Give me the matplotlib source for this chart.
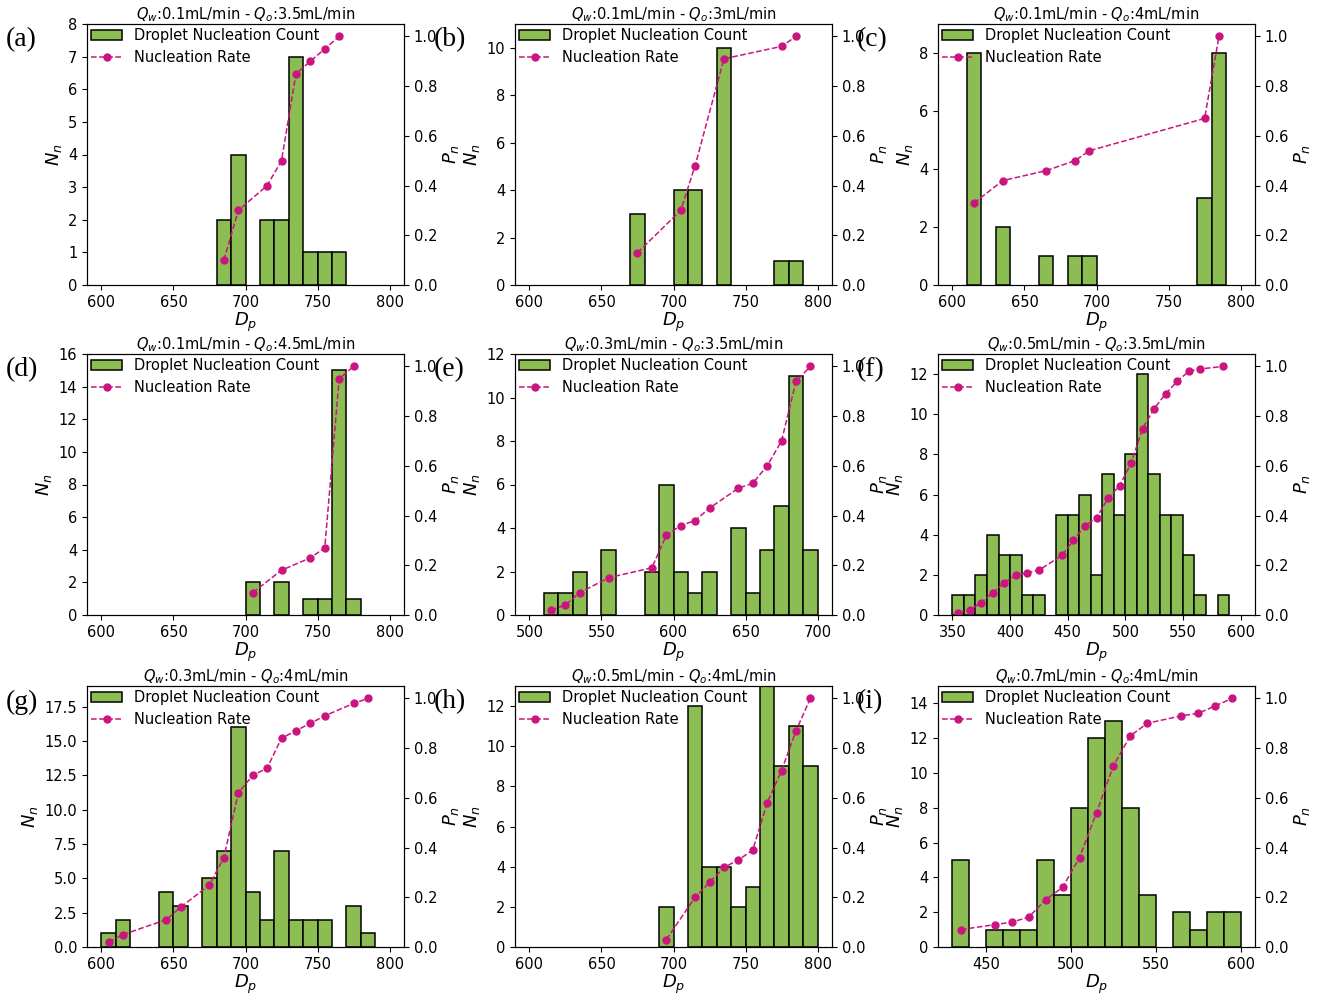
import numpy as np
import matplotlib
matplotlib.use("Agg")
import matplotlib.pyplot as plt

BAR_COLOR = "#8BBD52"
RATE_COLOR = "#CC1480"
BIN_W = 10

# =============================================================================
# data (bins are 10 wide, first bin starts at *_lo)
# =============================================================================
qw = ["0.1", "0.1", "0.1", "0.1", "0.3", "0.5", "0.3", "0.5", "0.7"]
qo = ["3.5", "3", "4", "4.5", "3.5", "3.5", "4", "4", "4"]
tags = ["(a)", "(b)", "(c)", "(d)", "(e)", "(f)", "(g)", "(h)", "(i)"]

lo_a = 600
counts_a = [0, 0, 0, 0, 0, 0, 0, 0, 2, 4, 0, 2, 2, 7, 1, 1, 1, 0, 0, 0]
rate_x_a = [685, 695, 715, 725, 735, 745, 755, 765]
rate_a = [0.10, 0.30, 0.40, 0.50, 0.85, 0.90, 0.95, 1.00]

lo_b = 600
counts_b = [0, 0, 0, 0, 0, 0, 0, 3, 0, 0, 4, 4, 0, 10, 0, 0, 0, 1, 1, 0]
rate_x_b = [675, 705, 715, 735, 775, 785]
rate_b = [0.13, 0.30, 0.48, 0.91, 0.96, 1.00]

lo_c = 600
counts_c = [0, 8, 0, 2, 0, 0, 1, 0, 1, 1, 0, 0, 0, 0, 0, 0, 0, 3, 8, 0]
rate_x_c = [615, 635, 665, 685, 695, 775, 785]
rate_c = [0.33, 0.42, 0.46, 0.50, 0.54, 0.67, 1.00]

lo_d = 600
counts_d = [0, 0, 0, 0, 0, 0, 0, 0, 0, 0, 2, 0, 2, 0, 1, 1, 15, 1, 0, 0]
rate_x_d = [705, 725, 745, 755, 765, 775]
rate_d = [0.09, 0.18, 0.23, 0.27, 0.95, 1.00]

lo_e = 500
counts_e = [0, 1, 1, 2, 0, 3, 0, 0, 2, 6, 2, 1, 2, 0, 4, 1, 3, 5, 11, 3]
rate_x_e = [515, 525, 535, 555, 585, 595, 605, 615, 625, 645, 655, 665, 675, 685, 695]
rate_e = [0.02, 0.04, 0.09, 0.15, 0.19, 0.32, 0.36, 0.38, 0.43, 0.51, 0.53, 0.60, 0.70, 0.94, 1.00]

lo_f = 350
counts_f = [1, 1, 2, 4, 3, 3, 1, 1, 0, 5, 5, 6, 2, 7, 5, 8, 12, 7, 5, 5, 3, 1, 0, 1, 0]
rate_x_f = [355, 365, 375, 385, 395, 405, 415, 425, 445, 455, 465, 475, 485, 495, 505,
            515, 525, 535, 545, 555, 565, 585]
rate_f = [0.01, 0.02, 0.05, 0.09, 0.13, 0.16, 0.17, 0.18, 0.24, 0.30, 0.36, 0.39, 0.47,
          0.52, 0.61, 0.75, 0.83, 0.89, 0.94, 0.98, 0.99, 1.00]

lo_g = 600
counts_g = [1, 2, 0, 0, 4, 3, 0, 5, 7, 16, 4, 2, 7, 2, 2, 2, 0, 3, 1, 0]
rate_x_g = [605, 615, 645, 655, 675, 685, 695, 705, 715, 725, 735, 745, 755, 775, 785]
rate_g = [0.02, 0.05, 0.11, 0.16, 0.25, 0.36, 0.62, 0.69, 0.72, 0.84, 0.87, 0.90, 0.93, 0.98, 1.00]

lo_h = 600
counts_h = [0, 0, 0, 0, 0, 0, 0, 0, 0, 2, 0, 12, 4, 4, 2, 3, 13, 9, 11, 9]
rate_x_h = [695, 715, 725, 735, 745, 755, 765, 775, 785, 795]
rate_h = [0.03, 0.20, 0.26, 0.32, 0.35, 0.39, 0.58, 0.71, 0.87, 1.00]

lo_i = 430
counts_i = [5, 0, 1, 1, 1, 5, 3, 8, 12, 13, 8, 3, 0, 2, 1, 2, 2]
rate_x_i = [435, 455, 465, 475, 485, 495, 505, 515, 525, 535, 545, 565, 575, 585, 595]
rate_i = [0.07, 0.09, 0.10, 0.12, 0.19, 0.24, 0.36, 0.54, 0.73, 0.85, 0.90, 0.93, 0.94, 0.97, 1.00]

los = [lo_a, lo_b, lo_c, lo_d, lo_e, lo_f, lo_g, lo_h, lo_i]
counts = [counts_a, counts_b, counts_c, counts_d, counts_e, counts_f, counts_g, counts_h, counts_i]
rate_xs = [rate_x_a, rate_x_b, rate_x_c, rate_x_d, rate_x_e, rate_x_f, rate_x_g, rate_x_h, rate_x_i]
rates = [rate_a, rate_b, rate_c, rate_d, rate_e, rate_f, rate_g, rate_h, rate_i]
ytops = [8, 11, 9, 16, 12, 13, 19, 13, 15]

# =============================================================================
W, H = 1327, 1001
fig = plt.figure(figsize=(W / 100, H / 100), dpi=100)

col_left = [87, 515, 938]
row_bottom = [285, 615, 947]
ax_w, ax_h = 317, 261

for k in range(9):
    r, c = divmod(k, 3)
    ax = fig.add_axes([col_left[c] / W, (H - row_bottom[r]) / H, ax_w / W, ax_h / H])
    n = np.array(counts[k])
    left = los[k] + BIN_W * np.arange(len(n))
    keep = n > 0
    bars = ax.bar(left[keep], n[keep], width=BIN_W, align="edge", color=BAR_COLOR,
                  edgecolor="black", linewidth=1.1, label="Droplet Nucleation Count")
    span = BIN_W * len(n)
    ax.set_xlim(los[k] - 0.05 * span, los[k] + 1.05 * span)
    ax.set_ylim(0, ytops[k])
    ax.set_xlabel("$D_p$", fontsize=13, labelpad=1)
    ax.set_ylabel("$N_n$", fontsize=13, labelpad=3)
    ax.tick_params(labelsize=10.5)

    ax2 = ax.twinx()
    line, = ax2.plot(rate_xs[k], rates[k], "--o", color=RATE_COLOR, linewidth=1.1,
                     markersize=5, label="Nucleation Rate")
    ax2.set_ylim(0, 1.05)
    ax2.set_ylabel("$P_n$", fontsize=13, labelpad=3)
    ax2.tick_params(labelsize=10.5)

    ax2.legend([bars, line], ["Droplet Nucleation Count", "Nucleation Rate"],
               loc="upper left", frameon=False, fontsize=10.5,
               borderaxespad=0.1, borderpad=0.2, handlelength=2.1, labelspacing=0.45)
    ax.set_title("$Q_w$:%smL/min - $Q_o$:%smL/min" % (qw[k], qo[k]), fontsize=10.5, pad=3)

    fig.text((col_left[c] - 81) / W, 1 - (row_bottom[r] - ax_h + 16) / H, tags[k],
             fontsize=20, family=["Liberation Serif", "DejaVu Serif"], va="center")

fig.savefig("out.png", dpi=100)
